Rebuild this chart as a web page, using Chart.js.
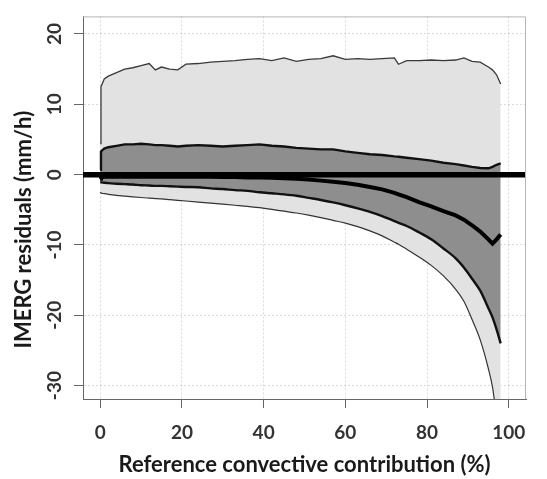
<!DOCTYPE html>
<html>
<head>
<meta charset="utf-8">
<script src="https://cdn.jsdelivr.net/npm/chart.js@4/dist/chart.umd.min.js"></script>
<style>
  html, body { margin: 0; padding: 0; background: #fff; }
</style>
</head>
<body>
<canvas id="chart" width="547" height="479"></canvas>
<script>
// convective contribution (%)
const contribution = [0, 0.2, 1, 2, 4, 6, 8, 10, 12, 13.5, 15, 17, 19, 21, 24, 27, 30, 33, 36, 39,
  42, 45, 48, 51, 54, 57, 60, 63, 66, 69, 72, 73, 75, 78, 81, 84, 87, 89, 91, 93, 95, 96, 97, 98];

// outer envelope (light band)
const outerUpper = [4.4, 12.5, 13.6, 14.0, 14.5, 15.0, 15.2, 15.5, 15.8, 14.9, 15.3, 15.0, 14.9, 15.7, 15.8, 16.0, 16.1, 16.2, 16.4, 16.5,
  16.2, 16.6, 16.1, 16.4, 16.5, 16.9, 16.4, 16.5, 16.4, 16.5, 16.6, 15.7, 16.2, 16.2, 16.3, 16.2, 16.3, 16.6, 16.1, 16.0, 15.3, 14.9, 14.2, 12.9];
const outerLower = [-2.5, -2.6, -2.7, -2.8, -2.95, -3.05, -3.15, -3.25, -3.35, -3.4, -3.45, -3.55, -3.65, -3.75, -3.9, -4.05, -4.2, -4.35, -4.5, -4.7,
  -4.95, -5.2, -5.45, -5.75, -6.1, -6.5, -6.9, -7.4, -8.0, -8.7, -9.6, -9.9, -10.6, -11.7, -12.9, -14.4, -16.3, -18.0, -20.6, -23.5, -27.6, -30.2, -34.5, -39];

// inner envelope (dark band)
const innerUpper = [0.7, 3.3, 3.7, 3.9, 4.1, 4.3, 4.3, 4.4, 4.3, 4.2, 4.2, 4.1, 4.0, 4.1, 4.2, 4.1, 4.0, 4.1, 4.2, 4.3,
  4.1, 4.0, 3.8, 3.7, 3.6, 3.6, 3.3, 3.1, 2.9, 2.8, 2.6, 2.55, 2.4, 2.2, 2.0, 1.7, 1.5, 1.3, 1.1, 0.95, 0.9, 1.1, 1.4, 1.6];
const innerLower = [-1.1, -1.1, -1.15, -1.2, -1.3, -1.35, -1.4, -1.5, -1.55, -1.6, -1.6, -1.65, -1.7, -1.75, -1.8, -1.95, -2.05, -2.2, -2.3, -2.5,
  -2.65, -2.8, -3.0, -3.3, -3.6, -3.95, -4.35, -4.8, -5.3, -5.9, -6.6, -6.85, -7.3, -8.2, -9.2, -10.5, -11.9, -13.2, -14.8, -16.5, -19.0, -20.3, -22.0, -24.0];

// median residual
const median = [-0.6, -0.4, -0.3, -0.3, -0.3, -0.3, -0.3, -0.3, -0.3, -0.3, -0.3, -0.3, -0.3, -0.3, -0.3, -0.3, -0.35, -0.35, -0.4, -0.4,
  -0.45, -0.5, -0.6, -0.7, -0.85, -1.0, -1.2, -1.45, -1.75, -2.1, -2.6, -2.8, -3.2, -3.9, -4.5, -5.2, -5.8, -6.4, -7.2, -8.1, -9.2, -9.8, -9.2, -8.5];

const zeroLineX = [-4.2, 104.2];
const xTicks = [0, 20, 40, 60, 80, 100];
const yTicks = [-30, -20, -10, 0, 10, 20];

const pts = (ys, xs = contribution) => xs.map((x, i) => ({x: x, y: ys[i]}));

const frame = {
  id: "frame",
  afterDraw(chart) {
    const {ctx, chartArea: a} = chart;
    ctx.save();
    ctx.strokeStyle = "#b5b5b5";
    ctx.lineWidth = 1;
    ctx.beginPath();
    ctx.moveTo(a.left, a.top + 0.5);
    ctx.lineTo(a.right - 0.5, a.top + 0.5);
    ctx.lineTo(a.right - 0.5, a.bottom);
    ctx.stroke();
    ctx.restore();
  },
};

const tickFont = {family: "Lato", weight: "bold", size: 19};
const titleFont = {family: "Lato", weight: "bold", size: 22};

new Chart(document.getElementById("chart"), {
  type: "line",
  data: {
    datasets: [
      {
        data: pts([0, 0], zeroLineX),
        borderColor: "#000",
        borderWidth: 5.5,
        order: 1,
      },
      {
        data: pts(median),
        borderColor: "#000",
        borderWidth: 4,
        order: 2,
      },
      {
        data: pts(innerUpper),
        borderColor: "#111",
        borderWidth: 2.4,
        backgroundColor: "#8e8e8e",
        fill: 3,
        order: 4,
      },
      {
        data: pts(innerLower),
        borderColor: "#111",
        borderWidth: 2.4,
        cubicInterpolationMode: "monotone",
        order: 3,
      },
      {
        data: pts(outerUpper),
        borderColor: "#3a3a3a",
        borderWidth: 1.3,
        backgroundColor: "#e2e2e2",
        fill: 5,
        order: 6,
      },
      {
        data: pts(outerLower),
        borderColor: "#333",
        borderWidth: 1.2,
        cubicInterpolationMode: "monotone",
        order: 5,
      },
    ],
  },
  options: {
    responsive: false,
    animation: false,
    events: [],
    layout: {padding: {left: 0, right: 21, top: 6, bottom: 0}},
    elements: {point: {radius: 0}, line: {tension: 0}},
    plugins: {
      legend: {display: false},
      tooltip: {enabled: false},
    },
    scales: {
      x: {
        type: "linear",
        min: -4.2,
        max: 104.2,
        z: 1,
        afterBuildTicks: (s) => { s.ticks = xTicks.map((v) => ({value: v})); },
        afterFit: (s) => { s.height = 80; },
        grid: {
          color: "rgba(150,150,150,0.35)",
          tickColor: "#666",
          tickLength: 9,
        },
        border: {display: true, color: "#666", dash: [2, 2]},
        ticks: {font: tickFont, color: "#333", padding: 13, maxRotation: 0},
        title: {
          display: true,
          text: "Reference convective contribution (%)",
          font: titleFont,
          color: "#1a1a1a",
          padding: {top: 0, bottom: 1},
        },
      },
      y: {
        type: "linear",
        min: -31.9,
        max: 22.5,
        z: 1,
        afterBuildTicks: (s) => { s.ticks = yTicks.map((v) => ({value: v})); },
        afterFit: (s) => { s.width = 83; },
        grid: {
          color: "rgba(150,150,150,0.35)",
          tickColor: "#666",
          tickLength: 9,
        },
        border: {display: true, color: "#666", dash: [2, 2]},
        ticks: {
          font: tickFont,
          color: "#333",
          padding: 5,
          minRotation: 90,
          maxRotation: 90,
          crossAlign: "center",
        },
        title: {
          display: true,
          // trailing en spaces push the centred title down, as in the original
          text: "IMERG residuals (mm/h)\u2002\u2002\u2002\u2002",
          font: titleFont,
          color: "#1a1a1a",
          padding: {top: 11, bottom: 0},
        },
      },
    },
  },
  plugins: [frame],
});
</script>
</body>
</html>
